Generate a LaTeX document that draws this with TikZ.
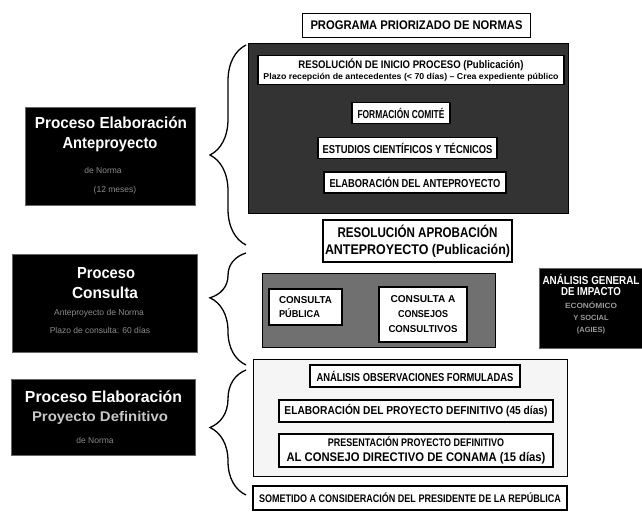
\documentclass[tikz,border=0pt]{standalone}
\usepackage{fontspec}
\usepackage{graphicx}
\setmainfont{Liberation Sans}
\usetikzlibrary{decorations.pathreplacing}
\newcommand{\fw}[2]{\resizebox{#1pt}{\height}{#2}}
\begin{document}
\begin{tikzpicture}[x=1pt,y=-1pt,
  wbox/.style={draw=black,line width=1.1pt,fill=white,inner sep=0pt,align=center,font=\bfseries\fontsize{11.5}{13}\selectfont},
  darkgrp/.style={draw=black,line width=1pt,fill=black!80,inner sep=0pt},
  midgrp/.style={draw=black,line width=1pt,fill=black!56,inner sep=0pt},
  lightgrp/.style={draw=black,line width=1pt,fill=black!4,inner sep=0pt},
  blackbox/.style={draw=black!60,line width=0.6pt,fill=black,inner sep=0pt},
  bigt/.style={text=white,inner sep=0pt,font=\bfseries\fontsize{16}{16}\selectfont},
  midt/.style={text=black!22,inner sep=0pt,font=\bfseries\fontsize{14}{14}\selectfont},
  smallt/.style={text=black!45,inner sep=0pt,font=\fontsize{8.5}{9}\selectfont},
  agt/.style={text=white,inner sep=0pt,font=\bfseries\fontsize{11.5}{12}\selectfont},
  agsmall/.style={text=black!40,inner sep=0pt,font=\bfseries\fontsize{7.5}{8}\selectfont},
  bracestyle/.style={decorate,decoration={brace,amplitude=36pt},line width=1.3pt}
]
\useasboundingbox (0,0) rectangle (642,512);

% title
\node[wbox,line width=0.8pt,minimum width=228,minimum height=24,font=\bfseries\fontsize{12.5}{14}\selectfont] (prog) at (416.5,25) {\fw{212}{PROGRAMA PRIORIZADO DE NORMAS}};

% group 1
\node[darkgrp,minimum width=320,minimum height=170] (g1) at (408,128) {};
\node[wbox,minimum width=306,minimum height=29,font=\bfseries\fontsize{8.5}{11}\selectfont] (res1) at (411,70)
  {{\fontsize{11}{11}\selectfont\fw{225}{RESOLUCIÓN DE INICIO PROCESO (Publicación)}}\\
   \fw{295}{Plazo recepción de antecedentes (< 70 días) -- Crea expediente público}};
\node[wbox,minimum width=98,minimum height=21] (comite) at (401,113) {\fw{87}{FORMACIÓN COMITÉ}};
\node[wbox,minimum width=179,minimum height=21] (estudios) at (407.5,148) {\fw{170}{ESTUDIOS CIENTÍFICOS Y TÉCNICOS}};
\node[wbox,minimum width=182,minimum height=21] (elab) at (415,182.5) {\fw{171}{ELABORACIÓN DEL ANTEPROYECTO}};
\node[wbox,minimum width=189,minimum height=42,font=\bfseries\fontsize{14}{17}\selectfont] (aprob) at (417.5,241)
  {\fw{160}{RESOLUCIÓN APROBACIÓN}\\\fw{185}{ANTEPROYECTO (Publicación)}};

% group 2
\node[midgrp,minimum width=233,minimum height=74] (g2) at (378.5,310) {};
\node[wbox,align=left,minimum width=73,minimum height=36,font=\bfseries\fontsize{10}{14}\selectfont] (cpub) at (305.5,307) {\fw{53}{CONSULTA}\\\fw{41}{PÚBLICA}};
\node[wbox,minimum width=88,minimum height=55,font=\bfseries\fontsize{10}{15}\selectfont] (ccons) at (423,314.5) {\fw{65}{CONSULTA A}\\\fw{50}{CONSEJOS}\\\fw{69}{CONSULTIVOS}};

% AGIES
\node[blackbox,minimum width=103,minimum height=80] (agies) at (590.5,308) {};
\node[agt] (ag1) at (591,279) {\fw{97}{ANÁLISIS GENERAL}};
\node[agt] (ag2) at (591,291.5) {\fw{60}{DE IMPACTO}};
\node[agsmall] (ag3) at (591,305) {\fw{52}{ECONÓMICO}};
\node[agsmall] (ag4) at (591,318) {Y SOCIAL};
\node[agsmall] (ag5) at (591,331) {(AGIES)};

% group 3
\node[lightgrp,minimum width=314,minimum height=117] (g3) at (410,417.5) {};
\node[wbox,minimum width=210,minimum height=22] (obs) at (415,376) {\fw{197}{ANÁLISIS OBSERVACIONES FORMULADAS}};
\node[wbox,minimum width=274,minimum height=22] (pdef) at (416,411) {\fw{263}{ELABORACIÓN DEL PROYECTO DEFINITIVO (45 días)}};
\node[wbox,minimum width=274,minimum height=33,font=\bfseries\fontsize{11}{15}\selectfont] (pres) at (416,450.5) {\fw{176}{PRESENTACIÓN PROYECTO DEFINITIVO}\\{\fontsize{12.5}{15}\selectfont\fw{259}{AL CONSEJO DIRECTIVO DE CONAMA (15 días)}}};
\node[wbox,minimum width=314,minimum height=24,font=\bfseries\fontsize{11}{13}\selectfont] (somet) at (410,498) {\fw{302}{SOMETIDO A CONSIDERACIÓN DEL PRESIDENTE DE LA REPÚBLICA}};

% left box 1
\node[blackbox,minimum width=170,minimum height=98] (l1) at (110,156) {};
\node[bigt] (l1a) at (111,123) {\fw{152}{Proceso Elaboración}};
\node[bigt] (l1b) at (110,145) {\fw{95}{Anteproyecto}};
\node[smallt] (l1c) at (103,170) {de Norma};
\node[smallt] (l1d) at (115,190) {(12 meses)};
% left box 2
\node[blackbox,minimum width=185,minimum height=98] (l2) at (104.5,303) {};
\node[bigt] (l2a) at (106,273) {\fw{58}{Proceso}};
\node[bigt] (l2b) at (105,293) {\fw{66}{Consulta}};
\node[smallt] (l2c) at (99,313) {Anteproyecto de Norma};
\node[smallt] (l2d) at (100,330) {Plazo de consulta: 60 días};
% left box 3
\node[blackbox,minimum width=184,minimum height=76] (l3) at (103,417) {};
\node[bigt] (l3a) at (103.5,397) {\fw{157}{Proceso Elaboración}};
\node[midt] (l3b) at (100,418) {\fw{136}{Proyecto Definitivo}};
\node[smallt] (l3c) at (95,440) {de Norma};

% braces
\coordinate (b1t) at (246,45);  \coordinate (b1b) at (246,245);
\coordinate (b2t) at (246,253); \coordinate (b2b) at (246,365);
\coordinate (b3t) at (246,370); \coordinate (b3b) at (246,495);
\draw[bracestyle,decoration={aspect=0.45}] (b1b) -- (b1t);
\draw[bracestyle,decoration={aspect=0.6}] (b2b) -- (b2t);
\draw[bracestyle,decoration={aspect=0.54}] (b3b) -- (b3t);
\end{tikzpicture}
\end{document}
